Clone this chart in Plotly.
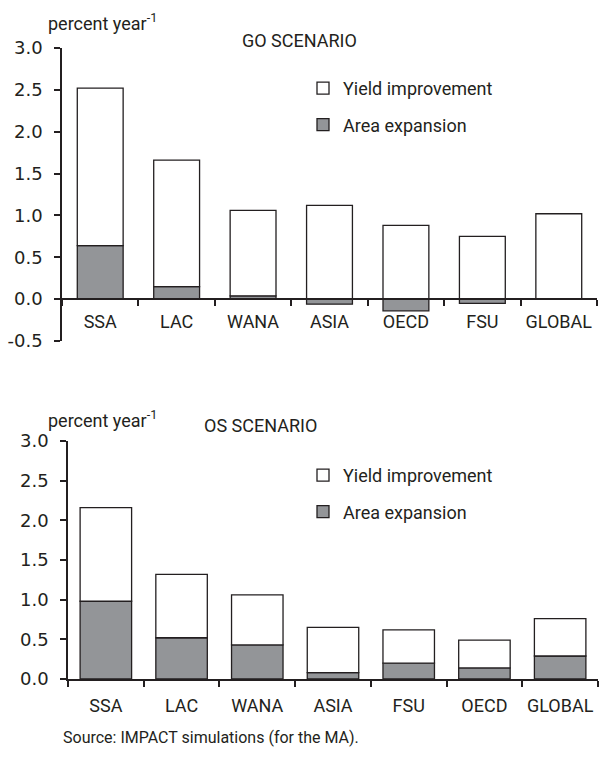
import plotly.graph_objects as go

# ---------------- data ----------------
go_regions = ["SSA", "LAC", "WANA", "ASIA", "OECD", "FSU", "GLOBAL"]
go_area = [0.64, 0.15, 0.04, -0.06, -0.14, -0.05, 0.0]
go_yield = [1.88, 1.51, 1.02, 1.12, 0.88, 0.75, 1.02]

os_regions = ["SSA", "LAC", "WANA", "ASIA", "FSU", "OECD", "GLOBAL"]
os_area = [0.98, 0.52, 0.43, 0.08, 0.20, 0.14, 0.29]
os_yield = [1.18, 0.80, 0.63, 0.57, 0.42, 0.35, 0.47]

top_tickvals = [-0.5, 0.0, 0.5, 1.0, 1.5, 2.0, 2.5, 3.0]
top_ticktext = ["-0.5", "0.0", "0.5", "1.0", "1.5", "2.0", "2.5", "3.0"]
bot_tickvals = [0.0, 0.5, 1.0, 1.5, 2.0, 2.5, 3.0]
bot_ticktext = ["0.0", "0.5", "1.0", "1.5", "2.0", "2.5", "3.0"]

W, H = 604, 773

TXT = "#231f20"
GRAY = "#939598"
LINE = "#231f20"
LABEL_FONT = "Roboto"
NUM_FONT = "DejaVu Sans"

def px_y(p):
    return 1 - p / H

def px_x(p):
    return p / W

top_dom = [px_y(341), px_y(48)]
bot_dom = [px_y(679), px_y(441)]
top_range = [-0.5, 3.0]
bot_range = [0.0, 3.0]

fig = go.Figure()

bar_line = dict(color=LINE, width=1.3)
# top (GO)
fig.add_trace(go.Bar(x=go_regions, y=go_area, name="Area expansion", marker=dict(color=GRAY, line=bar_line),
                     width=0.6, xaxis="x", yaxis="y", legend="legend", legendgroup="a1", legendrank=2))
fig.add_trace(go.Bar(x=go_regions, y=go_yield, name="Yield improvement", marker=dict(color="white", line=bar_line),
                     width=0.6, xaxis="x", yaxis="y", legend="legend", legendgroup="y1", legendrank=1))
# bottom (OS)
fig.add_trace(go.Bar(x=os_regions, y=os_area, name="Area expansion", marker=dict(color=GRAY, line=bar_line),
                     width=0.68, xaxis="x2", yaxis="y2", legend="legend2", legendgroup="a2", legendrank=2))
fig.add_trace(go.Bar(x=os_regions, y=os_yield, name="Yield improvement", marker=dict(color="white", line=bar_line),
                     width=0.68, xaxis="x2", yaxis="y2", legend="legend2", legendgroup="y2", legendrank=1))

zero_pos = top_dom[0] + (0 - top_range[0]) / (top_range[1] - top_range[0]) * (top_dom[1] - top_dom[0])

common_x = dict(showline=True, linecolor=LINE, linewidth=1.5, ticks="outside", tickson="boundaries",
                ticklen=6, tickcolor=LINE, tickwidth=1.5, showgrid=False, zeroline=False, automargin=False,
                ticklabeloverflow="allow", tickangle=0,
                tickfont=dict(family=LABEL_FONT, size=18, color=TXT), fixedrange=True)
common_y = dict(showline=True, linecolor=LINE, linewidth=1.5, ticks="outside", ticklen=6, tickcolor=LINE,
                tickwidth=1.5, showgrid=False, zeroline=False, automargin=False, tickmode="array",
                ticklabelstandoff=8,
                tickfont=dict(family=NUM_FONT, size=18, color=TXT), fixedrange=True)

leg_common = dict(xanchor="left", yanchor="top", traceorder="grouped", tracegroupgap=10,
                  font=dict(family=LABEL_FONT, size=18, color=TXT), bgcolor="rgba(0,0,0,0)")

fig.update_layout(
    template="none",
    width=W, height=H, autosize=False,
    margin=dict(l=0, r=0, t=0, b=0, autoexpand=False),
    paper_bgcolor="white", plot_bgcolor="white",
    barmode="relative",
    showlegend=True,
    xaxis=dict(domain=[px_x(62), px_x(597)], anchor="free", position=zero_pos, ticklabelstandoff=7, **common_x),
    yaxis=dict(domain=top_dom, range=top_range, anchor="x", tickvals=top_tickvals, ticktext=top_ticktext, **common_y),
    xaxis2=dict(domain=[px_x(68), px_x(598)], anchor="y2", ticklabelstandoff=10, **common_x),
    yaxis2=dict(domain=bot_dom, range=bot_range, anchor="x2", tickvals=bot_tickvals, ticktext=bot_ticktext, **common_y),
    legend=dict(x=px_x(303), y=px_y(70), **leg_common),
    legend2=dict(x=px_x(303), y=px_y(457), **leg_common),
)

ann_font = dict(family=LABEL_FONT, size=18, color=TXT)
fig.add_annotation(text="percent year<sup>-1</sup>", x=px_x(46), y=px_y(22), xref="paper", yref="paper",
                   xanchor="left", yanchor="middle", showarrow=False, font=ann_font)
fig.add_annotation(text="GO SCENARIO", x=px_x(240), y=px_y(40), xref="paper", yref="paper",
                   xanchor="left", yanchor="middle", showarrow=False, font=ann_font)
fig.add_annotation(text="percent year<sup>-1</sup>", x=px_x(46), y=px_y(419), xref="paper", yref="paper",
                   xanchor="left", yanchor="middle", showarrow=False, font=ann_font)
fig.add_annotation(text="OS SCENARIO", x=px_x(202), y=px_y(425), xref="paper", yref="paper",
                   xanchor="left", yanchor="middle", showarrow=False, font=ann_font)
fig.add_annotation(text="Source: IMPACT simulations (for the MA).", x=px_x(61), y=px_y(737), xref="paper", yref="paper",
                   xanchor="left", yanchor="middle", showarrow=False, font=dict(family=LABEL_FONT, size=16, color=TXT))

fig.write_html("out.html", config={"displayModeBar": False},
               post_script="document.body.style.margin='0';document.body.style.overflow='hidden';")
